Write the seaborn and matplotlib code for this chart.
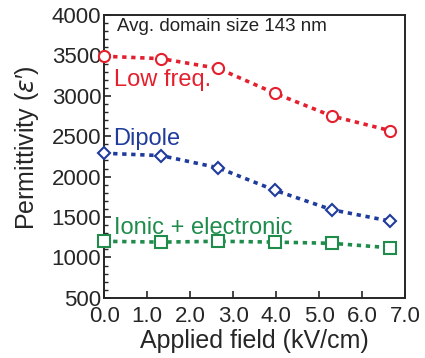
import matplotlib
matplotlib.use("Agg")
from matplotlib import pyplot as plt
from matplotlib.ticker import MultipleLocator
import seaborn as sns
import pandas as pd

field = [0.0, 1.33, 2.65, 3.98, 5.3, 6.65]
low_freq = [3490, 3460, 3340, 3030, 2750, 2570]
dipole = [2290, 2260, 2110, 1830, 1590, 1450]
ionic = [1200, 1190, 1200, 1190, 1175, 1120]

series = ["Low freq.", "Dipole", "Ionic + electronic"]
colors = ["#e4202e", "#1f3c9c", "#1f8c4c"]
markers = ["o", "D", "s"]
msizes = [8, 6.5, 8]

sns.set_style("ticks")
plt.rcParams["font.family"] = ["Liberation Sans", "DejaVu Sans"]

df = pd.DataFrame({
    "field": field * 3,
    "eps": low_freq + dipole + ionic,
    "series": [s for s in series for _ in field],
})

fig = plt.figure(figsize=(4.25, 3.58), dpi=100)
ax = fig.add_axes([0.245, 0.168, 0.708, 0.79])

for name, c, m, ms in zip(series, colors, markers, msizes):
    sns.lineplot(data=df[df["series"] == name], x="field", y="eps", ax=ax,
                 color=c, lw=2.6, linestyle=(0, (1.2, 1.3)),
                 marker=m, markersize=ms,
                 markerfacecolor="white", markeredgecolor=c,
                 markeredgewidth=1.5, legend=False, clip_on=False, zorder=3)

ax.set_xlim(0, 7)
ax.set_ylim(500, 4000)
ax.xaxis.set_major_locator(MultipleLocator(1))
ax.yaxis.set_major_locator(MultipleLocator(500))
ax.yaxis.set_minor_locator(MultipleLocator(100))
ax.xaxis.set_major_formatter(plt.FuncFormatter(lambda v, p: f"{v:.1f}"))
ax.tick_params(direction="in", labelsize=16, length=5, width=1.2)
ax.tick_params(axis="y", pad=2)
ax.tick_params(axis="x", pad=6)
ax.tick_params(which="minor", direction="in", length=3, width=1)
for sp in ax.spines.values():
    sp.set_linewidth(1.4)

ax.set_xlabel("Applied field (kV/cm)", fontsize=18, labelpad=1)
ax.set_ylabel("Permittivity ($\\epsilon$\u2032)", fontsize=18, labelpad=2)
ax.yaxis.set_label_coords(-0.21, 0.53)

ax.text(0.3, 3860, "Avg. domain size 143 nm", fontsize=13.5, color="#222222", va="center")
ax.text(0.22, 3200, "Low freq.", fontsize=17, color=colors[0], va="center")
ax.text(0.22, 2470, "Dipole", fontsize=17, color=colors[1], va="center")
ax.text(0.22, 1370, "Ionic + electronic", fontsize=17, color=colors[2], va="center")

plt.savefig("out.png", dpi=100)
